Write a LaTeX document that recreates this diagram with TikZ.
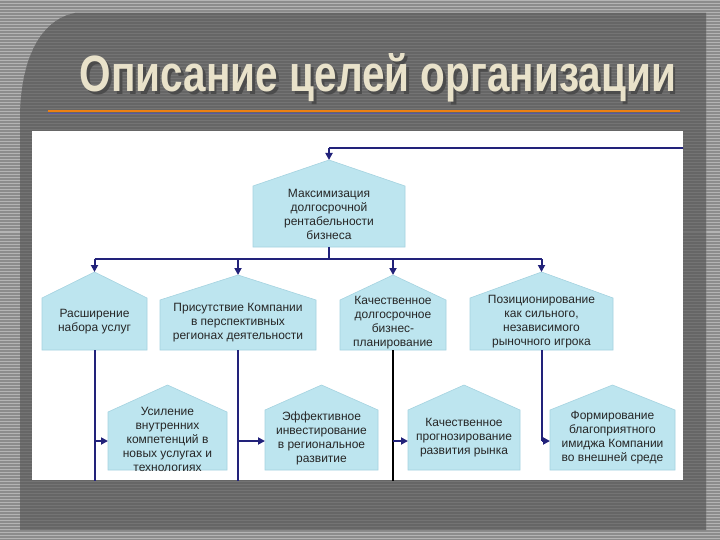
\documentclass[tikz,border=0pt]{standalone}
\usepackage{fontspec}
\setmainfont{Liberation Sans}
\usetikzlibrary{arrows.meta}
\definecolor{bg}{HTML}{8C8C8C}
\definecolor{bgs}{HTML}{B4B4B4}
\definecolor{pan}{HTML}{666666}
\definecolor{pans}{HTML}{747474}
\definecolor{box}{HTML}{BDE5EF}
\definecolor{boxb}{HTML}{A5D3E0}
\definecolor{nav}{HTML}{22227A}
\definecolor{ttl}{HTML}{E9E2CA}
\tikzset{
  roofed/.style={fill=box,draw=boxb,line width=0.6pt},
  lbl/.style={font=\fontsize{12}{14}\selectfont,align=center,text=black!85,inner sep=0pt},
  conn/.style={draw=nav,line width=2pt},
  arr/.style={conn,-{Triangle[length=7pt,width=7pt]}},
}
\newcommand{\housenode}[7]{%
  \fill[roofed] (#2,#6) -- (#2,#5) -- ({(#2+#3)/2},#4) -- (#3,#5) -- (#3,#6) -- cycle;
  \coordinate (#1apex) at ({(#2+#3)/2},#4);
  \coordinate (#1bot) at ({(#2+#3)/2},#6);
  \node[lbl] (#1) at ({(#2+#3)/2},{(#5+#6)/2-2}) {#7};
}
\begin{document}
\begin{tikzpicture}[x=1pt,y=-1pt]
\useasboundingbox (0,0) rectangle (720,540);
\fill[bg] (0,0) rectangle (720,540);
\foreach \y in {1,4,...,540} \draw[bgs,line width=1pt] (0,\y) -- (720,\y);
\begin{scope}
\clip (20,530) -- (20,120) .. controls (20,60) and (40,20) .. (75,13) -- (706,13) -- (706,530) -- cycle;
\fill[pan] (0,0) rectangle (720,540);
\foreach \y in {1,4,...,540} \draw[pans,line width=1pt] (0,\y) -- (720,\y);
\end{scope}
\fill[black!70] (380,81) node {\resizebox{596pt}{38pt}{\bfseries\phantom{Описание целей организации}}};
\node[text=black!70] at (380.5,80.5) {\resizebox{596pt}{38pt}{\bfseries Описание целей организации}};
\node[text=ttl,fill=none] (title) at (378,78) {\resizebox{596pt}{38pt}{\bfseries Описание целей организации}};
\draw[color=orange!70!brown,line width=1.2pt] (48,111) -- (680,111);
\draw[color=blue!30!gray,line width=1pt] (48,114) -- (680,114);
\fill[white] (32,131) rectangle (683,480);
\begin{scope}
\clip (32,131) rectangle (683,480);
\housenode{top}{253}{405}{160}{186}{247}{Максимизация\\долгосрочной\\рентабельности\\бизнеса}
\housenode{a}{42}{147}{272}{298}{350}{Расширение\\набора услуг}
\housenode{b}{160}{316}{275}{300}{350}{Присутствие Компании\\в перспективных\\регионах деятельности}
\housenode{c}{340}{446}{275}{300}{350}{Качественное\\долгосрочное\\бизнес-\\планирование}
\housenode{d}{470}{613}{272}{298}{350}{Позиционирование\\как сильного,\\независимого\\рыночного игрока}
\housenode{e}{108}{227}{385}{412}{470}{Усиление\\внутренних\\компетенций в\\новых услугах и\\технологиях}
\housenode{f}{265}{378}{385}{410}{470}{Эффективное\\инвестирование\\в региональное\\развитие}
\housenode{g}{408}{520}{385}{410}{470}{Качественное\\прогнозирование\\развития рынка}
\housenode{h}{550}{675}{385}{410}{470}{Формирование\\благоприятного\\имиджа Компании\\во внешней среде}
\coordinate (feed) at (690,148);
\coordinate (topin) at (topapex |- feed);
\draw[conn] (feed) -- (topin);
\draw[arr] (topin) -- (topapex);
\coordinate (bus) at (topbot |- 0,259);
\draw[conn] (topbot) -- (bus);
\draw[conn] (aapex |- bus) -- (dapex |- bus);
\foreach \n in {a,b,c,d} \draw[arr] (\n apex |- bus) -- (\n apex);
\coordinate (ea) at (abot |- 0,441);
\coordinate (fb) at (bbot |- 0,441);
\coordinate (gc) at (cbot |- 0,441);
\coordinate (hd) at (dbot |- 0,441);
\draw[conn] (abot) -- (abot |- 0,485);
\draw[conn] (bbot) -- (bbot |- 0,485);
\draw[black,line width=1.4pt] (cbot) -- (cbot |- 0,485);
\draw[conn] (dbot) -- (hd);
\draw[arr] (ea) -- (ea -| 108,0);
\draw[arr] (fb) -- (fb -| 265,0);
\draw[arr] (gc) -- (gc -| 408,0);
\draw[arr] (hd) -- (hd -| 550,0);
\end{scope}
\end{tikzpicture}
\end{document}
